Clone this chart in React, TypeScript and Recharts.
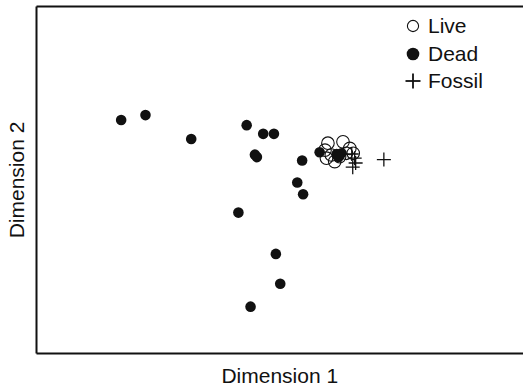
import {
  ScatterChart,
  Scatter,
  XAxis,
  YAxis,
  ReferenceLine,
  Legend,
} from "recharts";

// Ordination scores (both axes scaled 0–100)
const LIVE_X = [59.9, 63.0, 64.4, 59.3, 60.6, 62.3, 59.6, 61.3, 63.7, 65.1];
const LIVE_Y = [60.6, 61.0, 59.1, 58.6, 57.2, 56.7, 56.3, 55.3, 57.7, 57.7];

const DEAD_X = [
  17.4, 22.4, 31.8, 43.2, 46.6, 48.8, 44.9, 45.3, 54.6, 53.6, 54.8, 41.5, 49.2,
  50.1, 44.0, 58.2, 61.7, 62.7, 62.1,
];
const DEAD_Y = [
  67.3, 68.7, 61.8, 65.8, 63.3, 63.3, 57.3, 56.6, 55.6, 49.3, 45.9, 40.6, 28.7,
  20.1, 13.5, 58.0, 57.5, 57.7, 56.6,
];

const FOSSIL_X = [64.8, 65.4, 65.6, 65.0, 71.4];
const FOSSIL_Y = [57.5, 56.3, 54.9, 53.7, 55.9];

const LEGEND_LABELS = ["Live", "Dead", "Fossil"];

const FONT = "'Liberation Sans', Arial, Helvetica, sans-serif";
const INK = "#111";

const toPoints = (xs: number[], ys: number[]) =>
  xs.map((x, i) => ({ x, y: ys[i] }));

const liveData = toPoints(LIVE_X, LIVE_Y);
const deadData = toPoints(DEAD_X, DEAD_Y);
const fossilData = toPoints(FOSSIL_X, FOSSIL_Y);

// eslint-disable-next-line @typescript-eslint/no-explicit-any
const OpenDot = (p: any) => (
  <circle cx={p.cx} cy={p.cy} r={6.3} fill="none" stroke={INK} strokeWidth={1.1} />
);
// eslint-disable-next-line @typescript-eslint/no-explicit-any
const FilledDot = (p: any) => <circle cx={p.cx} cy={p.cy} r={5.3} fill={INK} />;
// eslint-disable-next-line @typescript-eslint/no-explicit-any
const Cross = (p: any) => (
  <g stroke={INK} strokeWidth={1.3}>
    <line x1={p.cx - 7} y1={p.cy} x2={p.cx + 7} y2={p.cy} />
    <line x1={p.cx} y1={p.cy - 7} x2={p.cx} y2={p.cy + 7} />
  </g>
);

function LegendIcon({ index }: { index: number }) {
  if (index === 0)
    return <circle cx={9} cy={9} r={5.6} fill="none" stroke={INK} strokeWidth={1.1} />;
  if (index === 1) return <circle cx={9} cy={9} r={6.3} fill={INK} />;
  return (
    <g stroke={INK} strokeWidth={1.8}>
      <line x1={1.5} y1={9} x2={16.5} y2={9} />
      <line x1={9} y1={1.5} x2={9} y2={16.5} />
    </g>
  );
}

function LegendBox() {
  return (
    <div style={{ fontFamily: FONT, fontSize: 21, color: INK }}>
      {LEGEND_LABELS.map((label, i) => (
        <div
          key={label}
          style={{ display: "flex", alignItems: "center", height: 27.5, lineHeight: "27.5px" }}
        >
          <svg width={18} height={18}>
            <LegendIcon index={i} />
          </svg>
          <span style={{ marginLeft: 6 }}>{label}</span>
        </div>
      ))}
    </div>
  );
}

export default function App() {
  return (
    <div style={{ position: "absolute", left: 0, top: 0, background: "#fff" }}>
      <ScatterChart
        width={523}
        height={389}
        margin={{ top: 6.5, right: 0, bottom: 0, left: 0 }}
      >
        <XAxis
          type="number"
          dataKey="x"
          domain={[0, 100]}
          allowDataOverflow
          tick={false}
          tickLine={false}
          axisLine={{ stroke: INK, strokeWidth: 2 }}
          height={35.5}
          label={{
            value: "Dimension 1",
            position: "insideBottom",
            offset: 6,
            fill: INK,
            fontSize: 21,
            fontFamily: FONT,
          }}
        />
        <YAxis
          type="number"
          dataKey="y"
          domain={[0, 100]}
          allowDataOverflow
          tick={false}
          tickLine={false}
          axisLine={{ stroke: INK, strokeWidth: 2 }}
          width={36.5}
          label={{
            value: "Dimension 2",
            position: "center",
            angle: -90,
            dx: -1.5,
            fill: INK,
            fontSize: 21,
            fontFamily: FONT,
          }}
        />
        <ReferenceLine y={100} stroke={INK} strokeWidth={2} />
        <Legend
          layout="vertical"
          align="center"
          verticalAlign="middle"
          content={() => <LegendBox />}
          wrapperStyle={{ left: 404, top: 12.25, width: "auto" }}
        />
        <Scatter name="Live" data={liveData} shape={OpenDot} isAnimationActive={false} />
        <Scatter name="Dead" data={deadData} shape={FilledDot} isAnimationActive={false} />
        <Scatter name="Fossil" data={fossilData} shape={Cross} isAnimationActive={false} />
      </ScatterChart>
    </div>
  );
}
